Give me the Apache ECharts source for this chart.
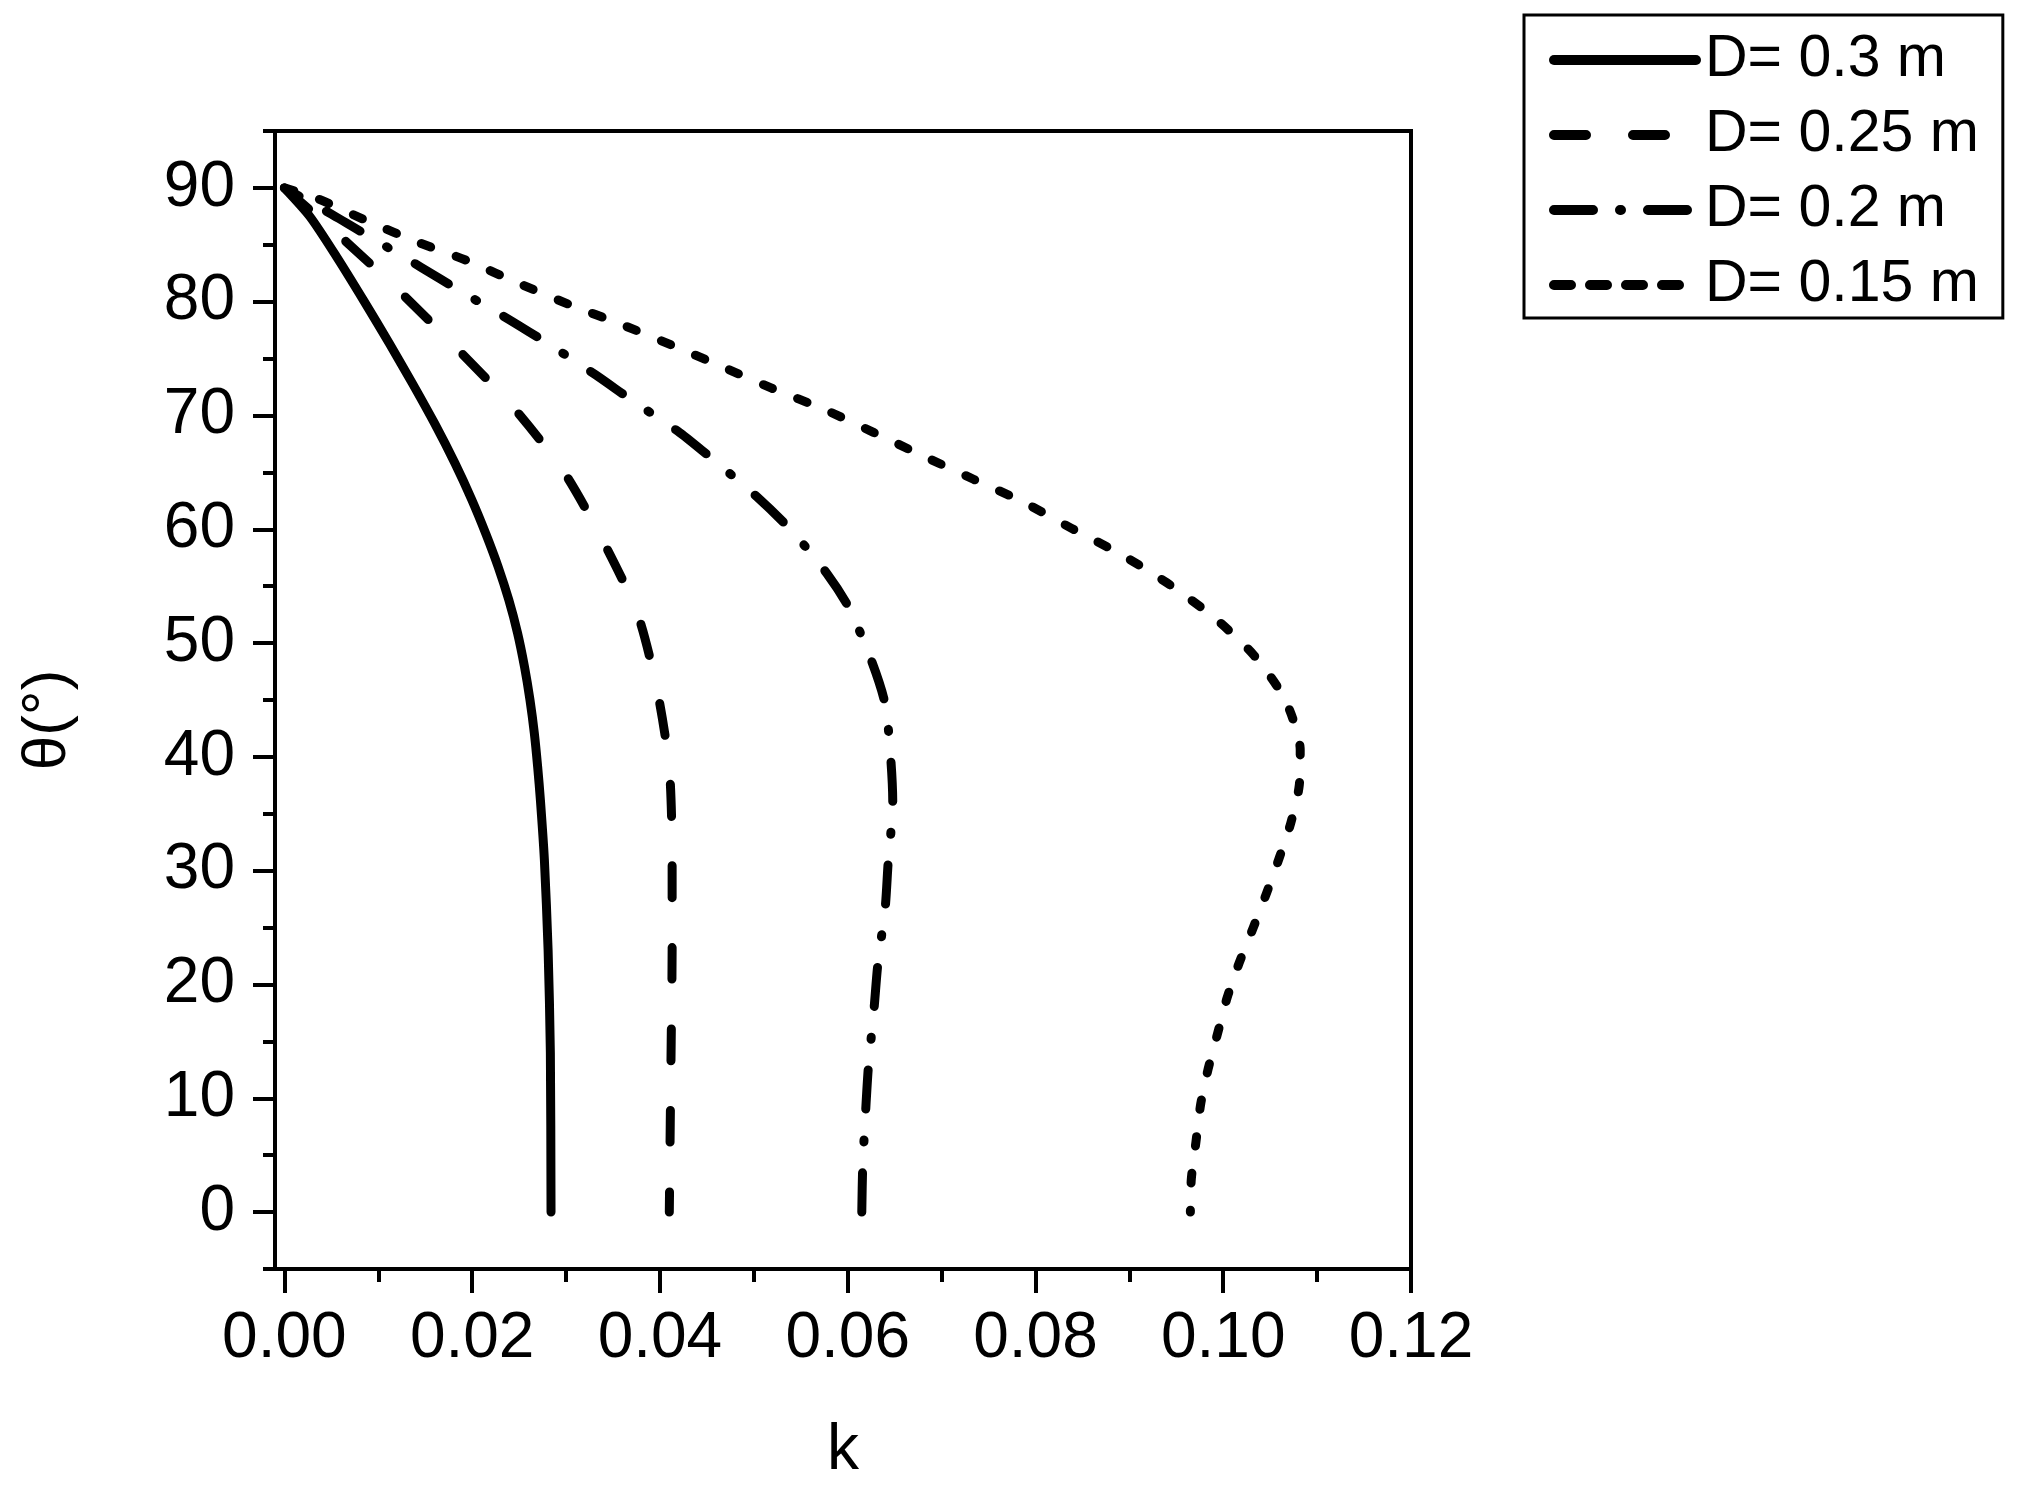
<!DOCTYPE html>
<html>
<head>
<meta charset="utf-8">
<script src="https://cdn.jsdelivr.net/npm/echarts@6/dist/echarts.min.js"></script>
<style>
html,body{margin:0;padding:0;background:#fff;}
#chart{width:2019px;height:1495px;}
</style>
</head>
<body>
<div id="chart"></div>
<script>
// ---- data ----
const seriesNames = ['D= 0.3 m', 'D= 0.25 m', 'D= 0.2 m', 'D= 0.15 m'];

const D030_k     = [0, 0.0027, 0.0056, 0.00845, 0.0112, 0.01365, 0.0160, 0.01817, 0.01996, 0.02146, 0.02277, 0.0239, 0.02483, 0.02558, 0.02616, 0.02662, 0.02698, 0.02727, 0.02769, 0.02809, 0.02833, 0.0284];
const D030_theta = [90, 87.5, 83.9, 80.1, 76.3, 72.8, 69.3, 65.8, 62.6, 59.6, 56.7, 53.8, 50.9, 47.9, 45.0, 42.1, 39.1, 36.2, 31.0, 23.0, 14.0, 0];

const D025_k     = [0, 0.0060, 0.0124, 0.0186, 0.0245, 0.0298, 0.0338, 0.0376, 0.0397, 0.0410, 0.0413, 0.0413, 0.0412, 0.0411, 0.0410];
const D025_theta = [90, 85.7, 80.8, 75.7, 70.6, 65.0, 59.2, 52.6, 45.9, 39.0, 31.0, 23.0, 15.0, 7.8, 0];

const D020_k     = [0, 0.0050, 0.0093, 0.0146, 0.0186, 0.0238, 0.0281, 0.0331, 0.0369, 0.0421, 0.0457, 0.0504, 0.0540, 0.0578, 0.0602, 0.0626, 0.0640, 0.0646, 0.0648, 0.0643, 0.0640, 0.0632, 0.0628, 0.0622, 0.0619, 0.0616, 0.0615];
const D020_theta = [90, 87.7, 85.6, 83.0, 81.0, 78.5, 76.3, 73.6, 71.4, 68.5, 66.1, 62.8, 59.9, 56.1, 53.0, 48.3, 44.6, 39.7, 36.0, 30.6, 26.8, 21.7, 17.8, 12.7, 8.7, 4.0, 0];

const D015_k     = [0, 0.0034, 0.0088, 0.0143, 0.0195, 0.0250, 0.0305, 0.0359, 0.0412, 0.0466, 0.0519, 0.0576, 0.0628, 0.0679, 0.0734, 0.0787, 0.0838, 0.0891, 0.0940, 0.0991, 0.1033, 0.1066, 0.1082, 0.1081, 0.1072, 0.1060, 0.1046, 0.1032, 0.1017, 0.1004, 0.0994, 0.0984, 0.0976, 0.0971, 0.0966, 0.0965];
const D015_theta = [90, 89.1, 87.1, 85.2, 83.6, 81.6, 79.7, 78.0, 76.2, 74.3, 72.4, 70.5, 68.5, 66.5, 64.4, 62.4, 60.1, 57.8, 55.3, 52.2, 48.9, 45.0, 40.6, 37.5, 34.2, 31.2, 28.0, 25.0, 21.9, 18.8, 15.7, 12.6, 9.5, 6.2, 2.9, 0];

const xMajorTicks = [0, 0.02, 0.04, 0.06, 0.08, 0.10, 0.12];
const xMinorTicks = [0.01, 0.03, 0.05, 0.07, 0.09, 0.11];
const yMajorTicks = [0, 10, 20, 30, 40, 50, 60, 70, 80, 90];
const yMinorTicks = [-5, 5, 15, 25, 35, 45, 55, 65, 75, 85, 95];

const xName = 'k';
const yName = 'θ(°)';

// ---- build ----
function zip(a, b) { return a.map((v, i) => [v, b[i]]); }
const FONT = 'Liberation Sans, Arial, sans-serif';

const plotDash = [null, [32, 49.5], [39, 31, 2, 31], [10, 27]];
const plotDashOffset = [0, 0, 55, 0];
const legendDash = [null, [32, 47], [39, 27, 1, 27], [17, 19]];
const seriesData = [zip(D030_k, D030_theta), zip(D025_k, D025_theta), zip(D020_k, D020_theta), zip(D015_k, D015_theta)];

const series = seriesNames.map((name, i) => ({
  name: name,
  type: 'line',
  xAxisIndex: 0,
  yAxisIndex: 0,
  data: seriesData[i],
  symbol: 'none',
  smooth: 0.25,
  animation: false,
  lineStyle: {
    color: '#000',
    width: 9,
    type: plotDash[i] || 'solid',
    dashOffset: plotDashOffset[i],
    cap: 'round',
    join: 'round'
  },
  itemStyle: { color: '#000' }
}));

const chart = echarts.init(document.getElementById('chart'), null, { renderer: 'canvas' });
chart.setOption({
  backgroundColor: '#fff',
  animation: false,
  textStyle: { fontFamily: FONT },
  grid: {
    left: 275, top: 131, width: 1136, height: 1138,
    show: true, borderColor: '#000', borderWidth: 4, backgroundColor: 'transparent'
  },
  legend: {
    orient: 'vertical',
    left: 1524, top: 15,
    padding: [15, 24, 3, 25],
    itemGap: 15,
    itemWidth: 142,
    itemHeight: 10,
    borderColor: '#000',
    borderWidth: 3,
    itemStyle: { opacity: 0 },
    textStyle: { fontSize: 59, color: '#000', fontFamily: FONT, lineHeight: 60, padding: [0, 0, 0, 4] },
    data: seriesNames.map((n, i) => ({
      name: n,
      itemStyle: { opacity: 0 },
      lineStyle: { color: '#000', width: 10, type: legendDash[i] || 'solid', dashOffset: 0, cap: 'round' }
    }))
  },
  xAxis: [
    {
      type: 'value', min: -0.001, max: 0.12, position: 'bottom',
      name: xName, nameLocation: 'middle', nameGap: 150,
      nameTextStyle: { fontSize: 64, color: '#000', fontFamily: FONT },
      axisLine: { show: true, onZero: false, lineStyle: { color: '#000', width: 4 } },
      axisTick: { show: true, customValues: xMajorTicks, length: 24, lineStyle: { color: '#000', width: 4 } },
      axisLabel: { show: true, customValues: xMajorTicks, margin: 38, fontSize: 64, color: '#000', fontFamily: FONT,
                   formatter: v => Number(v).toFixed(2) },
      splitLine: { show: false }
    },
    {
      type: 'value', min: -0.001, max: 0.12, position: 'bottom',
      axisLine: { show: false, onZero: false },
      axisTick: { show: true, customValues: xMinorTicks, length: 13, lineStyle: { color: '#000', width: 4 } },
      axisLabel: { show: false },
      splitLine: { show: false }
    }
  ],
  yAxis: [
    {
      type: 'value', min: -5, max: 95, position: 'left',
      name: yName, nameLocation: 'middle', nameGap: 196, nameRotate: 90,
      nameTextStyle: { fontSize: 62, color: '#000', fontFamily: FONT, padding: [0, 40, 0, 0] },
      axisLine: { show: true, onZero: false, lineStyle: { color: '#000', width: 4 } },
      axisTick: { show: true, customValues: yMajorTicks, length: 22, lineStyle: { color: '#000', width: 4 } },
      axisLabel: { show: true, customValues: yMajorTicks, margin: 40, fontSize: 64, color: '#000', fontFamily: FONT },
      splitLine: { show: false }
    },
    {
      type: 'value', min: -5, max: 95, position: 'left',
      axisLine: { show: false, onZero: false },
      axisTick: { show: true, customValues: yMinorTicks, length: 12, lineStyle: { color: '#000', width: 4 } },
      axisLabel: { show: false },
      splitLine: { show: false }
    }
  ],
  series: series
});
</script>
</body>
</html>
